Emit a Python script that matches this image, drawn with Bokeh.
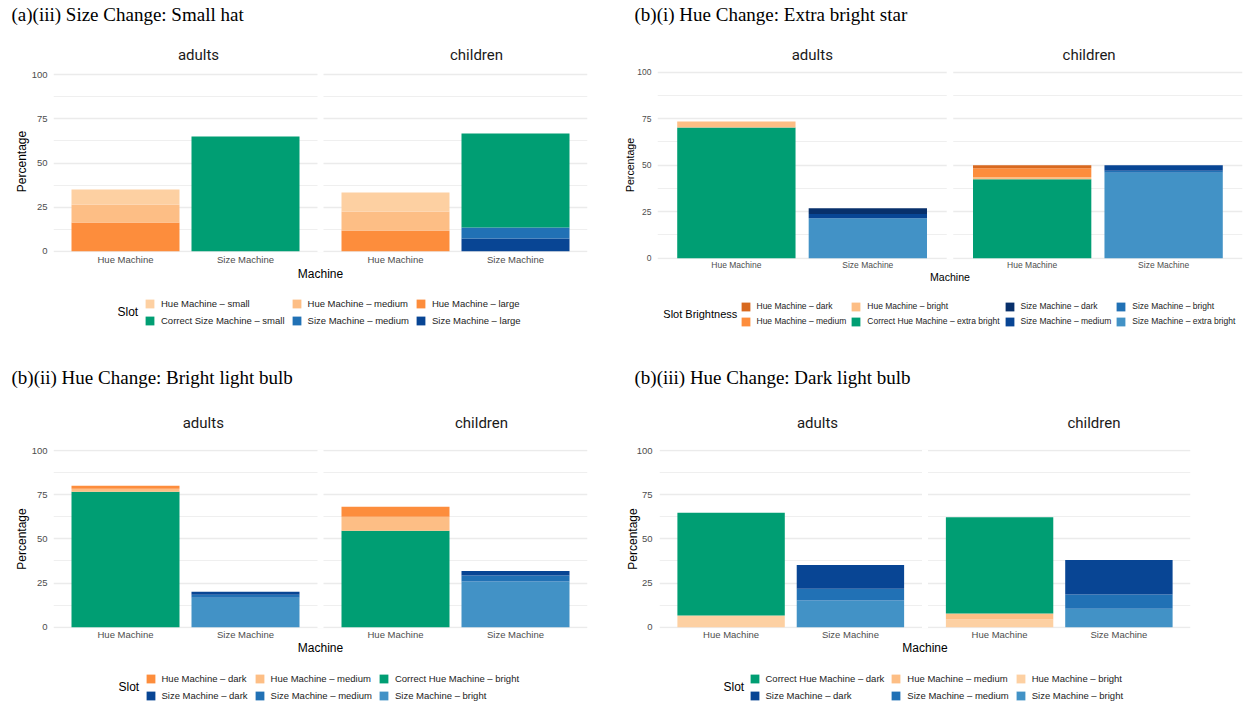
import math
from bokeh.plotting import figure
from bokeh.models import (FactorRange, Range1d, FixedTicker, Legend, LegendItem, Label,
                          ColumnDataSource, BoxAnnotation)
from bokeh.layouts import row, column
from bokeh.embed import file_html
from bokeh.resources import INLINE

# ---------------- data ----------------
GROUPS = ["adults", "children"]
MACHINES = ["Hue Machine", "Size Machine"]
# every series below is ordered: adults-Hue, adults-Size, children-Hue, children-Size
Y_TICKS = [0, 25, 50, 75, 100]
Y_MINOR = [12.5, 37.5, 62.5, 87.5]

# (a)(iii) Size Change: Small hat
A_HUE_LARGE = [16.3, 0.0, 11.7, 0.0]
A_HUE_MEDIUM = [10.2, 0.0, 10.8, 0.0]
A_HUE_SMALL = [8.5, 0.0, 10.8, 0.0]
A_SIZE_LARGE = [0.0, 0.0, 0.0, 7.2]
A_SIZE_MEDIUM = [0.0, 0.0, 0.0, 6.2]
A_CORRECT_SMALL = [0.0, 65.0, 0.0, 53.3]

# (b)(i) Hue Change: Extra bright star
B_CORRECT_XBRIGHT = [70.3, 0.0, 42.5, 0.0]
B_HUE_BRIGHT = [3.2, 0.0, 1.1, 0.0]
B_HUE_MEDIUM = [0.0, 0.0, 4.8, 0.0]
B_HUE_DARK = [0.0, 0.0, 1.6, 0.0]
B_SIZE_XBRIGHT = [0.0, 21.5, 0.0, 45.9]
B_SIZE_BRIGHT = [0.0, 0.0, 0.0, 1.1]
B_SIZE_MEDIUM = [0.0, 2.2, 0.0, 3.0]
B_SIZE_DARK = [0.0, 3.2, 0.0, 0.0]

# (b)(ii) Hue Change: Bright light bulb
C_CORRECT_BRIGHT = [76.6, 0.0, 54.6, 0.0]
C_HUE_MEDIUM = [1.7, 0.0, 7.9, 0.0]
C_HUE_DARK = [1.7, 0.0, 5.7, 0.0]
C_SIZE_BRIGHT = [0.0, 16.7, 0.0, 25.9]
C_SIZE_MEDIUM = [0.0, 1.7, 0.0, 3.4]
C_SIZE_DARK = [0.0, 1.6, 0.0, 2.5]

# (b)(iii) Hue Change: Dark light bulb
D_HUE_BRIGHT = [6.6, 0.0, 4.3, 0.0]
D_HUE_MEDIUM = [0.0, 0.0, 3.4, 0.0]
D_CORRECT_DARK = [58.2, 0.0, 54.5, 0.0]
D_SIZE_BRIGHT = [0.0, 15.1, 0.0, 10.5]
D_SIZE_MEDIUM = [0.0, 6.7, 0.0, 8.0]
D_SIZE_DARK = [0.0, 13.4, 0.0, 19.5]

# ---------------- colours ----------------
OR1, OR2, OR3, OR4 = "#fdd0a2", "#fdbe85", "#fd8d3c", "#d8691f"
GREEN = "#009e73"
BL1, BL2, BL3, BL4 = "#4292c6", "#2171b5", "#084594", "#08306b"

PANELS = [
    dict(title="(a)(iii) Size Change: Small hat", legend_title="Slot",
         stacks=[("Hue Machine – large", A_HUE_LARGE, OR3), ("Hue Machine – medium", A_HUE_MEDIUM, OR2),
                 ("Hue Machine – small", A_HUE_SMALL, OR1), ("Size Machine – large", A_SIZE_LARGE, BL3),
                 ("Size Machine – medium", A_SIZE_MEDIUM, BL2), ("Correct Size Machine – small", A_CORRECT_SMALL, GREEN)],
         legend=["Hue Machine – small", "Hue Machine – medium", "Hue Machine – large",
                 "Correct Size Machine – small", "Size Machine – medium", "Size Machine – large"], ncols=3,
         x0=0, w=620, y_head=0, y_main=64, y_leg=290, y_end=360,
         L=53, W=534, top=70, y100=74.3, y0=250.7, title_xy=(11, 14), facet_x=(198, 476), facet_y=54,
         ytick_standoff=6, ylabel_standoff=0, xtick_standoff=1, xlabel_standoff=-1,
         leg_title_xy=(117, 311.7), leg_left=144, leg_bottom=325.7, leg_spacing=6,
         small="9.5px", axis_title="12px", leg_title_size="12px"),
    dict(title="(b)(i) Hue Change: Extra bright star", legend_title="Slot Brightness",
         stacks=[("Correct Hue Machine – extra bright", B_CORRECT_XBRIGHT, GREEN), ("Hue Machine – bright", B_HUE_BRIGHT, OR2),
                 ("Hue Machine – medium", B_HUE_MEDIUM, OR3), ("Hue Machine – dark", B_HUE_DARK, OR4),
                 ("Size Machine – extra bright", B_SIZE_XBRIGHT, BL1), ("Size Machine – bright", B_SIZE_BRIGHT, BL2),
                 ("Size Machine – medium", B_SIZE_MEDIUM, BL3), ("Size Machine – dark", B_SIZE_DARK, BL4)],
         legend=["Hue Machine – dark", "Hue Machine – bright", "Size Machine – dark", "Size Machine – bright",
                 "Hue Machine – medium", "Correct Hue Machine – extra bright", "Size Machine – medium",
                 "Size Machine – extra bright"], ncols=4,
         x0=620, w=623, y_head=0, y_main=64, y_leg=290, y_end=360,
         L=657, W=585, top=70, y100=71.7, y0=257.7, title_xy=(634, 14), facet_x=(811.8, 1088.6), facet_y=54,
         ytick_standoff=6, ylabel_standoff=-2, xtick_standoff=0, xlabel_standoff=-2,
         leg_title_xy=(662.8, 313.3), leg_left=739.5, leg_bottom=326.7, leg_spacing=4,
         small="8.5px", axis_title="10.6px", leg_title_size="11px"),
    dict(title="(b)(ii) Hue Change: Bright light bulb", legend_title="Slot",
         stacks=[("Correct Hue Machine – bright", C_CORRECT_BRIGHT, GREEN), ("Hue Machine – medium", C_HUE_MEDIUM, OR2),
                 ("Hue Machine – dark", C_HUE_DARK, OR3), ("Size Machine – bright", C_SIZE_BRIGHT, BL1),
                 ("Size Machine – medium", C_SIZE_MEDIUM, BL2), ("Size Machine – dark", C_SIZE_DARK, BL3)],
         legend=["Hue Machine – dark", "Hue Machine – medium", "Correct Hue Machine – bright",
                 "Size Machine – dark", "Size Machine – medium", "Size Machine – bright"], ncols=3,
         x0=0, w=620, y_head=360, y_main=434, y_leg=665, y_end=704,
         L=53, W=534, top=449, y100=450.0, y0=626.7, title_xy=(11, 376.7), facet_x=(202.8, 481), facet_y=422,
         ytick_standoff=6, ylabel_standoff=0, xtick_standoff=0, xlabel_standoff=-2,
         leg_title_xy=(118, 686.7), leg_left=144.5, leg_bottom=700.7, leg_spacing=6,
         small="9.5px", axis_title="12px", leg_title_size="12px"),
    dict(title="(b)(iii) Hue Change: Dark light bulb", legend_title="Slot",
         stacks=[("Hue Machine – bright", D_HUE_BRIGHT, OR1), ("Hue Machine – medium", D_HUE_MEDIUM, OR2),
                 ("Correct Hue Machine – dark", D_CORRECT_DARK, GREEN), ("Size Machine – bright", D_SIZE_BRIGHT, BL1),
                 ("Size Machine – medium", D_SIZE_MEDIUM, BL2), ("Size Machine – dark", D_SIZE_DARK, BL3)],
         legend=["Correct Hue Machine – dark", "Hue Machine – medium", "Hue Machine – bright",
                 "Size Machine – dark", "Size Machine – medium", "Size Machine – bright"], ncols=3,
         x0=620, w=623, y_head=360, y_main=434, y_leg=665, y_end=704,
         L=659, W=531, top=449, y100=450.0, y0=626.7, title_xy=(634, 376.7), facet_x=(817, 1093.4), facet_y=422,
         ytick_standoff=7, ylabel_standoff=-6, xtick_standoff=0, xlabel_standoff=-2,
         leg_title_xy=(723, 686.7), leg_left=748.5, leg_bottom=700.7, leg_spacing=6,
         small="9.5px", axis_title="12px", leg_title_size="12px"),
]

SANS = "Liberation Sans"
SERIF = "Liberation Serif"
COMMON = dict(output_backend="svg", toolbar_location=None, outline_line_color=None,
              background_fill_color="white", border_fill_color="white", frame_align=False, title=None)


def style_axis(ax, s):
    ax.axis_line_color = None
    ax.major_tick_line_color = None
    ax.minor_tick_line_color = None
    ax.major_tick_out = 0
    ax.major_tick_in = 0
    ax.minor_tick_out = 0
    ax.minor_tick_in = 0
    ax.major_label_text_font = SANS
    ax.major_label_text_font_size = s["small"]
    ax.major_label_text_color = "#4d4d4d"
    ax.axis_label_text_font = SANS
    ax.axis_label_text_font_size = s["axis_title"]
    ax.axis_label_text_font_style = "normal"
    ax.axis_label_text_color = "black"


def text_strip(fw, fh):
    """A blank canvas whose data units are pixels (origin bottom-left)."""
    t = figure(width=fw, height=fh, x_range=Range1d(0, fw), y_range=Range1d(0, fh),
               x_axis_type=None, y_axis_type=None, min_border=0, min_border_left=0,
               min_border_right=0, min_border_top=0, min_border_bottom=0, **COMMON)
    t.xgrid.visible = False
    t.ygrid.visible = False
    return t


def make_panel(s):
    fx, fw = s["x0"], s["w"]
    L, W = s["L"], s["W"]
    y100, y0 = s["y100"], s["y0"]
    ppu = (y0 - y100) / 100.0
    top = s["top"]
    bottom = math.ceil(y0) + 1
    H = bottom - top
    y_start = -(bottom - y0) / ppu
    y_end = 100.0 + (y100 - top) / ppu

    # ---- header: panel title and facet strip labels
    hh = s["y_main"] - s["y_head"]
    hp = text_strip(fw, hh)
    tx, ty = s["title_xy"]
    hp.add_layout(Label(x=tx - fx, y=s["y_main"] - ty, text=s["title"], text_font=SERIF,
                        text_font_size="19px", text_color="black", text_align="left",
                        text_baseline="middle"))
    for g, gx in zip(GROUPS, s["facet_x"]):
        hp.add_layout(Label(x=gx - fx, y=s["y_main"] - s["facet_y"], text=g, text_font="Roboto",
                            text_font_size="15px", text_color="#1a1a1a", text_align="center",
                            text_baseline="middle"))

    # ---- main chart
    fy, fh = s["y_main"], s["y_leg"] - s["y_main"]
    factors = [(g, m) for g in GROUPS for m in MACHINES]
    xr = FactorRange(*factors, factor_padding=0.0, group_padding=0.25,
                     range_padding=0.1, range_padding_units="absolute")
    p = figure(x_range=xr, y_range=Range1d(y_start, y_end), frame_width=W, frame_height=H,
               min_border_left=L - fx, min_border_right=fx + fw - L - W,
               min_border_top=top - fy, min_border_bottom=fy + fh - bottom, **COMMON)

    p.xgrid.visible = False
    p.yaxis.ticker = FixedTicker(ticks=Y_TICKS, minor_ticks=Y_MINOR)
    p.ygrid.grid_line_color = "#ebebeb"
    p.ygrid.grid_line_width = 1.3
    p.ygrid.minor_grid_line_color = "#ebebeb"
    p.ygrid.minor_grid_line_width = 0.8
    p.add_layout(BoxAnnotation(left=2.1, right=2.15, fill_color="white", fill_alpha=1.0,
                               line_alpha=0.0, level="underlay"))

    ya = p.left[0]
    xa = p.below[0]
    for ax in (xa, ya):
        style_axis(ax, s)
    ya.axis_label = "Percentage"
    ya.major_label_standoff = s["ytick_standoff"]
    ya.axis_label_standoff = s["ylabel_standoff"]
    xa.axis_label = "Machine"
    xa.major_label_standoff = s["xtick_standoff"]
    xa.axis_label_standoff = s["xlabel_standoff"]
    xa.group_text_font_size = "0px"
    xa.group_text_color = None
    xa.separator_line_color = None

    data = {"x": factors}
    keys, colors = [], []
    for i, (lab, vals, col) in enumerate(s["stacks"]):
        data["s%d" % i] = vals
        keys.append("s%d" % i)
        colors.append(col)
    p.vbar_stack(keys, x="x", width=0.9, source=ColumnDataSource(data),
                 fill_color=colors, line_color=None)
    cmap = {lab: col for (lab, _, col) in s["stacks"]}

    # ---- legend strip
    lh = s["y_end"] - s["y_leg"]
    lp = text_strip(fw, lh)
    items = []
    for lab in s["legend"]:
        # legend key proxy: a zero-height bar, only its colour is shown in the key
        r = lp.vbar(x=[0], top=[0], bottom=[0], width=1, fill_color=cmap[lab], line_color=None)
        items.append(LegendItem(label=lab, renderers=[r]))
    leg = Legend(items=items, location=(s["leg_left"] - fx, s["y_end"] - s["leg_bottom"]),
                 orientation="horizontal", ncols=s["ncols"], nrows=2,
                 glyph_width=11, glyph_height=11, label_height=11, label_width=20,
                 label_standoff=6, spacing=s["leg_spacing"], padding=0, margin=0,
                 label_text_font=SANS, label_text_font_size=s["small"], label_text_color="#222222",
                 border_line_alpha=0.0, background_fill_alpha=0.0)
    lp.add_layout(leg)
    lx, lty = s["leg_title_xy"]
    lp.add_layout(Label(x=lx - fx, y=s["y_end"] - lty, text=s["legend_title"], text_font=SANS,
                        text_font_size=s["leg_title_size"], text_color="black",
                        text_align="left", text_baseline="middle"))
    return column(hp, p, lp)


cols = [make_panel(s) for s in PANELS]
layout = column(row(cols[0], cols[1]), row(cols[2], cols[3]))
open("out.html", "w").write(file_html(layout, INLINE))
